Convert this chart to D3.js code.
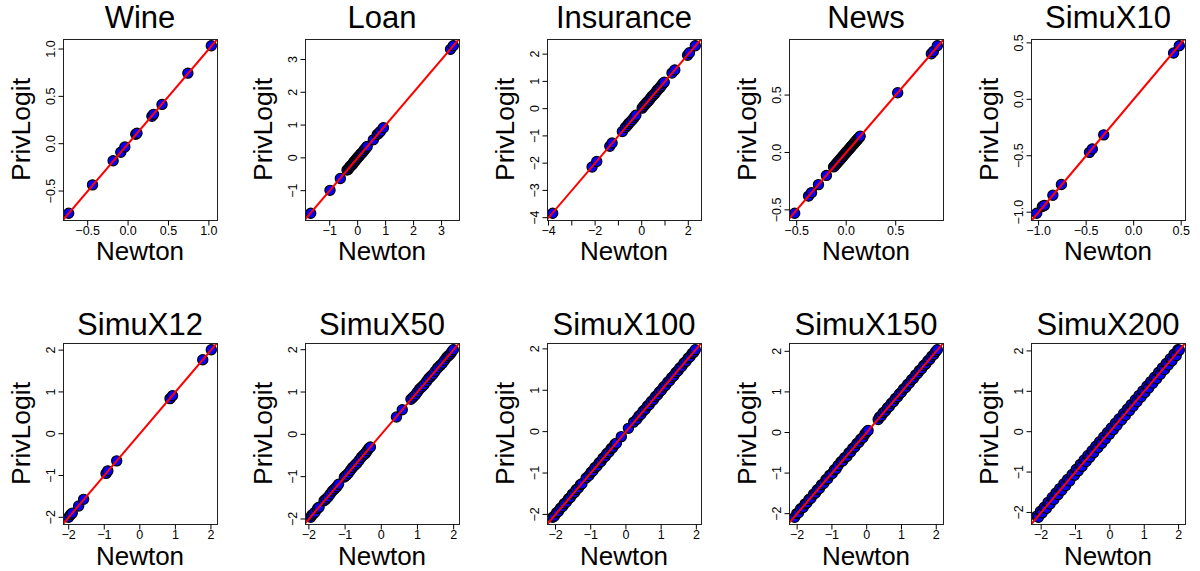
<!DOCTYPE html>
<html><head><meta charset="utf-8">
<script src="https://cdn.jsdelivr.net/npm/d3@7"></script>
<style>
html,body{margin:0;padding:0;background:#fff;}
svg{display:block;}
text{font-family:"Liberation Sans",Arial,Helvetica,sans-serif;fill:#000;font-weight:normal;}
</style>
</head><body>
<svg id="chart" width="1200" height="571"></svg>
<script>
// ---------- data ----------
const titles = ["Wine","Loan","Insurance","News","SimuX10","SimuX12","SimuX50","SimuX100","SimuX150","SimuX200"];
const xAxisLabel = "Newton";
const yAxisLabel = "PrivLogit";

const wineNewton = [-0.735,-0.44,-0.185,-0.09,-0.04,0.095,0.11,0.295,0.315,0.42,0.74,1.03];
const winePriv   = [-0.735,-0.435,-0.18,-0.09,-0.035,0.10,0.11,0.29,0.31,0.415,0.745,1.035];

const loanNewton = [-1.68,-0.99,-0.62,-0.38,-0.34,-0.30,-0.27,-0.23,-0.19,-0.16,-0.13,-0.10,-0.07,-0.04,-0.01,0.02,0.05,0.08,0.11,0.14,0.18,0.22,0.26,0.30,0.34,0.56,0.70,0.76,0.82,0.92,3.32,3.42];
const loanPriv   = [-1.69,-0.99,-0.63,-0.37,-0.35,-0.30,-0.26,-0.23,-0.20,-0.16,-0.12,-0.10,-0.07,-0.03,-0.01,0.03,0.05,0.08,0.12,0.14,0.17,0.22,0.27,0.30,0.35,0.55,0.71,0.76,0.81,0.92,3.31,3.42];

const insuranceNewton = [-3.82,-2.13,-1.93,-1.37,-1.27,-0.83,-0.70,-0.62,-0.55,-0.48,-0.40,-0.32,-0.25,0.02,0.08,0.14,0.20,0.26,0.32,0.38,0.44,0.50,0.56,0.62,0.68,0.74,0.80,0.86,0.92,0.97,1.30,1.42,1.97,2.05,2.30];
const insurancePriv   = [-3.84,-2.14,-1.94,-1.38,-1.26,-0.84,-0.69,-0.62,-0.54,-0.48,-0.41,-0.32,-0.24,0.02,0.09,0.14,0.21,0.26,0.31,0.38,0.45,0.50,0.55,0.62,0.69,0.74,0.79,0.86,0.93,0.97,1.31,1.42,1.96,2.05,2.31];

const newsNewton = [-0.52,-0.38,-0.35,-0.28,-0.20,-0.128,-0.117,-0.104,-0.093,-0.085,-0.071,-0.062,-0.054,-0.041,-0.033,-0.024,-0.012,-0.006,0.004,0.011,0.019,0.027,0.036,0.044,0.052,0.061,0.069,0.078,0.087,0.096,0.104,0.113,0.121,0.132,0.141,0.52,0.86,0.88,0.92];
const newsPriv   = [-0.53,-0.38,-0.35,-0.28,-0.20,-0.126,-0.118,-0.103,-0.094,-0.084,-0.072,-0.061,-0.055,-0.040,-0.034,-0.023,-0.013,-0.005,0.005,0.010,0.020,0.026,0.037,0.043,0.053,0.060,0.070,0.077,0.088,0.095,0.105,0.112,0.122,0.131,0.142,0.52,0.86,0.88,0.93];

const simuX10Newton = [-1.02,-0.96,-0.94,-0.85,-0.76,-0.465,-0.435,-0.315,0.42,0.48];
const simuX10Priv   = [-1.01,-0.95,-0.94,-0.85,-0.755,-0.47,-0.44,-0.315,0.41,0.475];

const simuX12Newton = [-2.0,-1.95,-1.9,-1.72,-1.58,-0.95,-0.9,-0.65,0.85,0.92,1.77,2.01];
const simuX12Priv   = [-2.0,-1.94,-1.9,-1.73,-1.57,-0.95,-0.89,-0.65,0.84,0.91,1.77,2.01];

const simuX50Newton = [-1.95,-1.92,-1.88,-1.83,-1.76,-1.72,-1.58,-1.53,-1.47,-1.41,-1.35,-1.29,-1.23,-1.18,-1.02,-0.97,-0.91,-0.85,-0.79,-0.73,-0.67,-0.61,-0.55,-0.49,-0.44,-0.39,-0.34,-0.3,0.42,0.58,0.82,0.88,0.94,1.0,1.06,1.12,1.18,1.25,1.31,1.37,1.43,1.49,1.56,1.63,1.69,1.75,1.81,1.86,1.91,1.95,1.99];
const simuX50Priv   = [-1.96,-1.91,-1.88,-1.84,-1.75,-1.72,-1.57,-1.53,-1.48,-1.41,-1.34,-1.29,-1.24,-1.18,-1.01,-0.97,-0.92,-0.85,-0.78,-0.73,-0.68,-0.61,-0.54,-0.49,-0.45,-0.39,-0.33,-0.3,0.41,0.58,0.83,0.88,0.93,1.0,1.07,1.12,1.17,1.25,1.32,1.37,1.42,1.49,1.57,1.63,1.68,1.75,1.82,1.86,1.9,1.95,2.0];

const simuX100Newton = [-2.08,-2.03,-1.97,-1.92,-1.86,-1.8,-1.75,-1.69,-1.63,-1.58,-1.52,-1.46,-1.41,-1.35,-1.29,-1.25,-1.13,-1.05,-0.99,-0.94,-0.88,-0.82,-0.76,-0.71,-0.65,-0.59,-0.54,-0.48,-0.42,-0.37,-0.31,-0.27,-0.13,0.07,0.22,0.31,0.37,0.43,0.49,0.55,0.61,0.66,0.72,0.78,0.84,0.9,0.95,1.01,1.07,1.13,1.19,1.24,1.3,1.36,1.42,1.48,1.53,1.59,1.65,1.71,1.77,1.82,1.88,1.93,1.97];
const simuX100Priv   = [-2.07,-2.04,-1.96,-1.93,-1.85,-1.81,-1.74,-1.7,-1.62,-1.59,-1.51,-1.47,-1.4,-1.36,-1.28,-1.26,-1.12,-1.06,-0.98,-0.95,-0.87,-0.83,-0.75,-0.72,-0.64,-0.6,-0.53,-0.49,-0.41,-0.38,-0.3,-0.28,-0.12,0.08,0.23,0.3,0.38,0.42,0.5,0.54,0.62,0.65,0.73,0.77,0.85,0.89,0.96,1.0,1.08,1.12,1.2,1.23,1.31,1.35,1.43,1.47,1.54,1.58,1.66,1.7,1.78,1.81,1.89,1.92,1.98];

const simuX150Newton = [-2.07,-2.01,-1.96,-1.9,-1.83,-1.77,-1.72,-1.66,-1.6,-1.53,-1.47,-1.42,-1.36,-1.3,-1.23,-1.17,-1.12,-1.06,-0.99,-0.93,-0.88,-0.82,-0.74,-0.69,-0.63,-0.57,-0.51,-0.46,-0.4,-0.34,-0.28,-0.22,-0.17,-0.11,-0.05,0.0,0.04,0.33,0.37,0.42,0.48,0.54,0.6,0.65,0.71,0.77,0.83,0.89,0.94,1.0,1.06,1.12,1.18,1.23,1.29,1.35,1.41,1.47,1.52,1.58,1.64,1.7,1.76,1.81,1.87,1.93,1.98,2.03];
const simuX150Priv   = [-2.09,-2.0,-1.98,-1.88,-1.85,-1.76,-1.74,-1.65,-1.62,-1.52,-1.49,-1.41,-1.38,-1.29,-1.25,-1.16,-1.14,-1.05,-1.01,-0.92,-0.9,-0.81,-0.72,-0.7,-0.62,-0.59,-0.5,-0.48,-0.39,-0.36,-0.27,-0.24,-0.16,-0.13,-0.04,0.01,0.05,0.32,0.38,0.41,0.49,0.53,0.61,0.64,0.72,0.76,0.84,0.88,0.95,0.99,1.07,1.11,1.19,1.22,1.3,1.34,1.42,1.46,1.53,1.57,1.65,1.69,1.77,1.8,1.88,1.92,1.99,2.04];

const simuX200Newton = [-2.13,-2.08,-2.02,-1.97,-1.91,-1.85,-1.8,-1.74,-1.68,-1.63,-1.57,-1.51,-1.46,-1.4,-1.34,-1.29,-1.23,-1.17,-1.1,-1.03,-0.98,-0.92,-0.86,-0.81,-0.75,-0.69,-0.64,-0.58,-0.52,-0.47,-0.41,-0.35,-0.3,-0.24,-0.18,-0.13,-0.07,-0.01,0.04,0.1,0.16,0.21,0.27,0.34,0.4,0.45,0.51,0.57,0.62,0.68,0.74,0.79,0.85,0.91,0.96,1.02,1.08,1.13,1.19,1.25,1.3,1.36,1.42,1.47,1.53,1.59,1.64,1.7,1.76,1.81,1.87,1.93,1.98,2.02];
const simuX200Priv   = [-2.09,-2.12,-1.97,-2.01,-1.87,-1.9,-1.75,-1.79,-1.63,-1.68,-1.52,-1.56,-1.41,-1.45,-1.29,-1.34,-1.18,-1.22,-1.06,-1.08,-0.93,-0.97,-0.81,-0.86,-0.7,-0.74,-0.59,-0.63,-0.47,-0.52,-0.36,-0.4,-0.25,-0.29,-0.13,-0.18,-0.02,-0.06,0.09,0.05,0.21,0.16,0.32,0.29,0.45,0.4,0.56,0.52,0.67,0.63,0.79,0.74,0.9,0.86,1.01,0.97,1.13,1.08,1.24,1.2,1.35,1.31,1.47,1.42,1.58,1.54,1.69,1.65,1.81,1.76,1.92,1.88,2.03,2.02];

// tick values and labels
const wineTicks = [-0.5, 0, 0.5, 1.0];
const wineTickLabels = ["\u22120.5","0.0","0.5","1.0"];
const loanTicks = [-1, 0, 1, 2, 3];
const loanTickLabels = ["\u22121","0","1","2","3"];
const insuranceTicks = [-4, -3, -2, -1, 0, 1, 2];
const insuranceXTickLabels = ["\u22124","","\u22122","","0","","2"];
const insuranceYTickLabels = ["\u22124","\u22123","\u22122","\u22121","0","1","2"];
const newsTicks = [-0.5, 0, 0.5];
const newsTickLabels = ["\u22120.5","0.0","0.5"];
const simuX10Ticks = [-1.0, -0.5, 0, 0.5];
const simuX10TickLabels = ["\u22121.0","\u22120.5","0.0","0.5"];
const simuTicks = [-2, -1, 0, 1, 2];
const simuTickLabels = ["\u22122","\u22121","0","1","2"];

// ---------- panel table built from the arrays ----------
const panels = [
  {x: wineNewton, y: winePriv, xt: wineTicks, xl: wineTickLabels, yt: wineTicks, yl: wineTickLabels},
  {x: loanNewton, y: loanPriv, xt: loanTicks, xl: loanTickLabels, yt: loanTicks, yl: loanTickLabels},
  {x: insuranceNewton, y: insurancePriv, xt: insuranceTicks, xl: insuranceXTickLabels, yt: insuranceTicks, yl: insuranceYTickLabels},
  {x: newsNewton, y: newsPriv, xt: newsTicks, xl: newsTickLabels, yt: newsTicks, yl: newsTickLabels},
  {x: simuX10Newton, y: simuX10Priv, xt: simuX10Ticks, xl: simuX10TickLabels, yt: simuX10Ticks, yl: simuX10TickLabels},
  {x: simuX12Newton, y: simuX12Priv, xt: simuTicks, xl: simuTickLabels, yt: simuTicks, yl: simuTickLabels},
  {x: simuX50Newton, y: simuX50Priv, xt: simuTicks, xl: simuTickLabels, yt: simuTicks, yl: simuTickLabels},
  {x: simuX100Newton, y: simuX100Priv, xt: simuTicks, xl: simuTickLabels, yt: simuTicks, yl: simuTickLabels},
  {x: simuX150Newton, y: simuX150Priv, xt: simuTicks, xl: simuTickLabels, yt: simuTicks, yl: simuTickLabels},
  {x: simuX200Newton, y: simuX200Priv, xt: simuTicks, xl: simuTickLabels, yt: simuTicks, yl: simuTickLabels}
].map((p, i) => Object.assign(p, {title: titles[i]}));

// ---------- layout ----------
const colLeft = [63, 305, 547, 789, 1031];
const rowTop = [39, 343];
const boxW = 154, boxH = 181;
const titleBase = [28, 335];
const xLabBase = [260, 565];

const svg = d3.select("#chart");

function padExtent(arr) {
  const e = d3.extent(arr);
  const pad = (e[1] - e[0]) * 0.04;
  return [e[0] - pad, e[1] + pad];
}

panels.forEach((p, i) => {
  const row = Math.floor(i / 5), col = i % 5;
  const L = colLeft[col], T = rowTop[row], R = L + boxW, B = T + boxH;
  const xd = padExtent(p.x), yd = padExtent(p.y);
  const xs = d3.scaleLinear().domain(xd).range([L, R]);
  const ys = d3.scaleLinear().domain(yd).range([B, T]);
  const g = svg.append("g");

  const clipId = "clip" + i;
  svg.append("clipPath").attr("id", clipId)
    .append("rect").attr("x", L).attr("y", T).attr("width", boxW + 1).attr("height", boxH + 1);

  const pts = d3.range(Math.min(p.x.length, p.y.length)).map(k => [p.x[k], p.y[k]]);
  const plot = g.append("g").attr("clip-path", `url(#${clipId})`);
  plot.selectAll("circle").data(pts).join("circle")
    .attr("cx", d => xs(d[0])).attr("cy", d => ys(d[1]))
    .attr("r", 5.1)
    .attr("fill", "#0000ff").attr("stroke", "#000").attr("stroke-width", 1.2);

  // box
  g.append("rect").attr("x", L + 0.5).attr("y", T + 0.5).attr("width", boxW).attr("height", boxH)
    .attr("fill", "none").attr("stroke", "#222").attr("stroke-width", 1);

  // x ticks
  p.xt.forEach((v, k) => {
    const x = xs(v);
    g.append("line").attr("x1", x).attr("x2", x).attr("y1", B + 0.5).attr("y2", B + 5.5)
      .attr("stroke", "#000").attr("stroke-width", 1);
    if (p.xl[k]) g.append("text").attr("x", x).attr("y", B + 14.5)
      .attr("text-anchor", "middle").attr("font-size", 12.5).text(p.xl[k]);
  });
  // y ticks
  p.yt.forEach((v, k) => {
    const y = ys(v);
    g.append("line").attr("x1", L + 0.5).attr("x2", L - 4.5).attr("y1", y).attr("y2", y)
      .attr("stroke", "#000").attr("stroke-width", 1);
    if (p.yl[k]) g.append("text")
      .attr("transform", `translate(${L - 8.5},${y}) rotate(-90)`)
      .attr("text-anchor", "middle").attr("font-size", 12.5).text(p.yl[k]);
  });

  // identity line
  const t0 = Math.max(xd[0], yd[0]), t1 = Math.min(xd[1], yd[1]);
  plot.append("line")
    .attr("x1", xs(t0)).attr("y1", ys(t0)).attr("x2", xs(t1)).attr("y2", ys(t1))
    .attr("stroke", "#ff0000").attr("stroke-width", 2);

  // title and axis labels
  g.append("text").attr("x", (L + R) / 2).attr("y", titleBase[row])
    .attr("text-anchor", "middle").attr("font-size", 31).text(p.title);
  g.append("text").attr("x", (L + R) / 2).attr("y", xLabBase[row])
    .attr("text-anchor", "middle").attr("font-size", 26).text(xAxisLabel);
  g.append("text")
    .attr("transform", `translate(${L - 33},${(T + B) / 2}) rotate(-90)`)
    .attr("text-anchor", "middle").attr("font-size", 26.5).text(yAxisLabel);
});
</script>
</body></html>
